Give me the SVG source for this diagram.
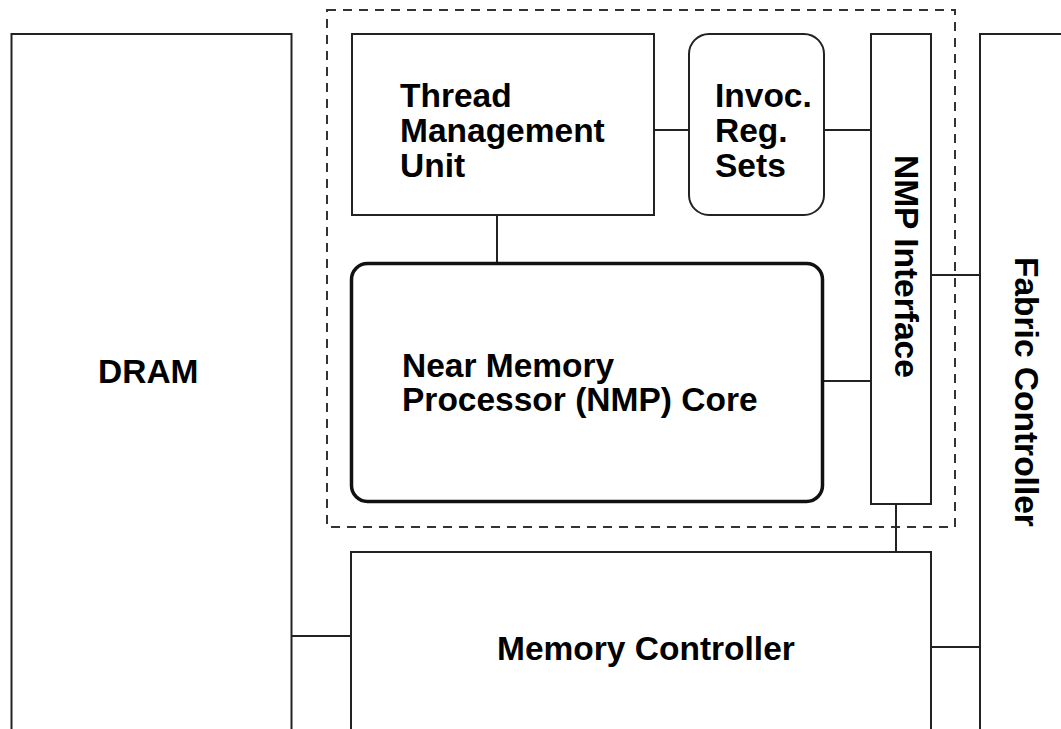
<svg xmlns="http://www.w3.org/2000/svg" width="1061" height="729" viewBox="0 0 1061 729">
<style>
.box{fill:#fff;stroke:#222;stroke-width:2}
.core{fill:#fff;stroke:#111;stroke-width:3.5}
.dash{fill:none;stroke:#333;stroke-width:2;stroke-dasharray:9 7}
.conn line{stroke:#222;stroke-width:2}
text{font-family:"Liberation Sans",Arial,Helvetica,sans-serif;font-weight:bold;font-size:33.5px;fill:#000}
</style>
<rect width="1061" height="729" fill="#fff"/>
<g id="group-nmp"><rect class="dash" x="327" y="10" width="628" height="517"/></g>
<g id="connectors" class="conn">
<line x1="654" y1="130" x2="689" y2="130"/>
<line x1="824" y1="130" x2="871" y2="130"/>
<line x1="497" y1="215" x2="497" y2="263"/>
<line x1="823" y1="381" x2="871" y2="381"/>
<line x1="931" y1="275" x2="980" y2="275"/>
<line x1="896" y1="504" x2="896" y2="552"/>
<line x1="291" y1="636" x2="351" y2="636"/>
<line x1="931" y1="647" x2="980" y2="647"/>
</g>
<g id="dram"><rect class="box" x="11.5" y="34" width="280" height="720"/><text x="98" y="383">DRAM</text></g>
<g id="tmu"><rect class="box" x="352" y="34" width="302" height="181"/>
<text x="400" y="107">Thread</text><text x="400" y="142">Management</text><text x="400" y="177">Unit</text></g>
<g id="invoc"><rect class="box" x="689" y="34" width="135" height="181" rx="20" stroke="#444"/>
<text x="715" y="107">Invoc.</text><text x="715" y="142">Reg.</text><text x="715" y="177">Sets</text></g>
<g id="core"><rect class="core" x="351.5" y="263.5" width="471" height="238" rx="16"/>
<text x="402" y="377">Near Memory</text><text x="402" y="411">Processor (NMP) Core</text></g>
<g id="nmp-interface"><rect class="box" x="871" y="34" width="60" height="470"/>
<text transform="translate(895,155) rotate(90)">NMP Interface</text></g>
<g id="fabric"><rect class="box" x="980" y="34" width="200" height="800"/>
<text transform="translate(1015,257) rotate(90)">Fabric Controller</text></g>
<g id="memctl"><rect class="box" x="351" y="552" width="580" height="300"/>
<text x="497" y="660">Memory Controller</text></g>
</svg>
